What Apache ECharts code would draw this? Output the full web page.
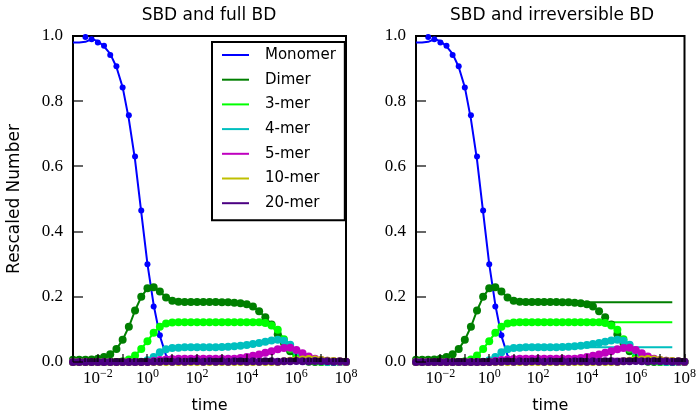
<!DOCTYPE html>
<html><head><meta charset="utf-8">
<script src="https://cdn.jsdelivr.net/npm/echarts@6/dist/echarts.min.js"></script>
<style>html,body{margin:0;padding:0;background:#fff}#c{width:699px;height:419px}</style>
</head><body><div id="c"></div>
<script>
// log10(time) grid
const logT = [-3,-2.75,-2.5,-2.25,-2,-1.75,-1.5,-1.25,-1,-0.75,-0.5,-0.25,0,0.25,0.5,0.75,1,1.25,1.5,1.75,2,2.25,2.5,2.75,3,3.25,3.5,3.75,4,4.25,4.5,4.75,5,5.25,5.5,5.75,6,6.25,6.5,6.75,7,7.25,7.5,7.75,8];
const names = ['Monomer','Dimer','3-mer','4-mer','5-mer','10-mer','20-mer'];
const colors = ['#0000ff','#007f00','#00ff00','#00bfbf','#bf00bf','#bfbf00','#4b0082'];
const xMajorExps = [-3,-2,-1,0,1,2,3,4,5,6,7,8];
const xLabelExps = [-2,0,2,4,6,8];
const minorMult = [2,3,4,5,6,7,8,9];
const yTicks = [0,0.2,0.4,0.6,0.8,1.0];

const monoLine = [0.98,0.98,0.982,0.99,0.985,0.968,0.945,0.905,0.843,0.745,0.62,0.46,0.30,0.175,0.08,0.02,0.004,0,0,0,0,0,0,0,0,0,0,0,0,0,0,0,0,0,0,0,0,0,0,0,0,0,0,0,0];
const monoDots = [null,null,0.997,0.99,0.98,0.97,0.942,0.907,0.842,0.757,0.63,0.465,0.30,0.17,0.082,null,null,null,null,null,null,null,null,null,null,null,null,null,null,null,null,null,null,null,null,null,null,null,null,null,null,null,null,null,null];
const dimer = [0.007,0.007,0.007,0.008,0.01,0.015,0.024,0.04,0.068,0.108,0.158,0.2,0.226,0.229,0.216,0.198,0.188,0.185,0.184,0.184,0.184,0.184,0.184,0.184,0.183,0.183,0.182,0.18,0.177,0.17,0.156,0.137,0.115,0.085,0.058,0.033,0.011,0.004,0.001,0,0,0,0,0,0];
const trimer = [0,0,0,0,0,0,0,0,0.002,0.008,0.02,0.04,0.064,0.09,0.108,0.118,0.121,0.122,0.122,0.122,0.122,0.122,0.122,0.122,0.122,0.122,0.122,0.122,0.122,0.122,0.122,0.12,0.112,0.099,0.07,0.04,0.015,0.008,0.004,0.002,0,0,0,0,0];
const tetramer = [0,0,0,0,0,0,0,0,0,0,0,0.001,0.005,0.015,0.03,0.039,0.043,0.044,0.045,0.045,0.045,0.045,0.045,0.045,0.046,0.047,0.048,0.05,0.052,0.055,0.058,0.062,0.066,0.068,0.065,0.053,0.034,0.018,0.01,0.005,0.002,0,0,0,0];
const pentamer = [0,0,0,0,0,0,0,0,0,0,0,0,0.001,0.003,0.006,0.008,0.009,0.01,0.01,0.01,0.01,0.01,0.01,0.01,0.01,0.01,0.01,0.012,0.015,0.019,0.023,0.028,0.033,0.039,0.043,0.044,0.037,0.027,0.017,0.01,0.006,0.004,0.002,0.001,0];
const decamer = [0,0,0,0,0,0,0,0,0,0,0,0,0,0,0,0,0,0,0,0,0,0,0,0,0,0,0,0,0,0,0,0,0,0,0.002,0.004,0.006,0.008,0.009,0.008,0.006,0.004,0.003,0.002,0.001];
const icosamer = [0,0,0,0,0,0,0,0,0,0,0,0,0,0.001,0.001,0.002,0.001,0.002,0.001,0.002,0.002,0.001,0.002,0.001,0.002,0.001,0.002,0.002,0.001,0.002,0.001,0.002,0.002,0.001,0.002,0.002,0.003,0.002,0.002,0.003,0.002,0.002,0.001,0.002,0.001];
// irreversible BD (right panel) solid lines
const dimerIrr = [0.007,0.007,0.007,0.008,0.01,0.015,0.024,0.04,0.068,0.108,0.158,0.2,0.226,0.229,0.216,0.198,0.188,0.185,0.184,0.184,0.184,0.184,0.184,0.184,0.183,0.183,0.183,0.183,0.183,0.183,0.183,0.183,0.183,0.183,0.183,0.183,0.183,0.183,0.183,0.183,0.183,0.183,0.183,null,null];
const trimerIrr = [0,0,0,0,0,0,0,0,0.002,0.008,0.02,0.04,0.064,0.09,0.108,0.118,0.121,0.122,0.122,0.122,0.122,0.122,0.122,0.122,0.122,0.122,0.122,0.122,0.122,0.122,0.122,0.122,0.122,0.122,0.122,0.122,0.122,0.122,0.122,0.122,0.122,0.122,0.122,null,null];
const tetramerIrr = [0,0,0,0,0,0,0,0,0,0,0,0.001,0.005,0.015,0.03,0.039,0.043,0.044,0.045,0.045,0.045,0.045,0.045,0.045,0.045,0.045,0.045,0.045,0.045,0.045,0.045,0.045,0.045,0.045,0.045,0.045,0.045,0.045,0.045,0.045,0.045,0.045,0.045,null,null];
const pentamerIrr = [0,0,0,0,0,0,0,0,0,0,0,0,0.001,0.003,0.006,0.008,0.009,0.01,0.01,0.01,0.01,0.01,0.01,0.01,0.01,0.01,0.01,0.01,0.01,0.01,0.01,0.01,0.01,0.01,0.01,0.01,0.01,0.01,0.01,0.01,0.01,0.01,0.01,null,null];
const decamerIrr = [0,0,0,0,0,0,0,0,0,0,0,0,0,0,0,0,0,0,0,0,0,0,0,0,0,0,0,0,0,0,0,0,0,0,0.001,0.001,0.001,0.001,0.001,0.001,0.001,0.001,0.001,null,null];
const icosamerIrr = [0,0,0,0,0,0,0,0,0,0,0,0,0,0,0,0,0,0,0,0,0,0,0,0,0,0,0,0,0,0,0,0,0,0,0,0,0,0,0,0,0,0,0,null,null];

const dotsAll = [monoDots, dimer, trimer, tetramer, pentamer, decamer, icosamer];
const linesFull = [monoLine, dimer, trimer, tetramer, pentamer, decamer, icosamer];
const linesIrr = [monoLine, dimerIrr, trimerIrr, tetramerIrr, pentamerIrr, decamerIrr, icosamerIrr];

const pair = a => logT.map((x, i) => [x, a[i]]);
const minorVals = [];
for (let d = -3; d < 8; d++) minorMult.forEach(m => minorVals.push(d + Math.log10(m)));

const SERIF = 'Liberation Serif';
const SANS = 'DejaVu Sans';
const panels = [
  {left: 73, top: 36, width: 273, height: 329},
  {left: 416, top: 36, width: 272, height: 329}
];

const gridOpts = [], xAxes = [], yAxes = [];
panels.forEach((g, gi) => {
  gridOpts.push(Object.assign({show: true, borderColor: '#000', borderWidth: 2}, g));
  xAxes.push({
    type: 'value', gridIndex: gi, min: -3, max: 8, interval: 1,
    name: 'time', nameLocation: 'middle', nameGap: 36,
    nameTextStyle: {fontFamily: SANS, fontSize: 16, color: '#000'},
    axisLine: {show: true, onZero: false, lineStyle: {color: '#000', width: 2}},
    splitLine: {show: false},
    axisTick: {show: false},
    axisLabel: {
      show: true, margin: 6, showMaxLabel: true, showMinLabel: true,
      formatter: v => xLabelExps.includes(v) ? '{b|10}{s|' + (v < 0 ? '\u2212' : '') + Math.abs(v) + '}' : '',
      rich: {
        b: {fontFamily: SERIF, fontSize: 17, color: '#000'},
        s: {fontFamily: SERIF, fontSize: 12, color: '#000', padding: [0, 0, 9, 0]}
      }
    }
  });
  yAxes.push({
    type: 'value', gridIndex: gi, min: 0, max: 1, interval: 0.2,
    name: gi === 0 ? 'Rescaled Number' : '', nameLocation: 'middle', nameGap: 50,
    nameTextStyle: {fontFamily: SANS, fontSize: 17, color: '#000'},
    axisLine: {show: true, onZero: false, lineStyle: {color: '#000', width: 2}},
    splitLine: {show: false},
    axisTick: {show: false},
    axisLabel: {margin: 10, fontFamily: SERIF, fontSize: 17, color: '#000',
      formatter: v => yTicks.some(t => Math.abs(t - v) < 1e-9) ? v.toFixed(1) : ''}
  });
});

const series = [];
// left panel: full BD
names.forEach((n, i) => {
  if (i === 0) {
    series.push({name: n, type: 'line', xAxisIndex: 0, yAxisIndex: 0, data: pair(linesFull[0]),
      showSymbol: false, lineStyle: {color: colors[0], width: 2}, itemStyle: {color: colors[0]}, z: 3});
    series.push({name: n + ' SBD', type: 'scatter', xAxisIndex: 0, yAxisIndex: 0, data: pair(dotsAll[0]),
      symbolSize: 6, itemStyle: {color: colors[0], opacity: 1}, z: 3});
  } else {
    series.push({name: n, type: 'line', xAxisIndex: 0, yAxisIndex: 0, data: pair(linesFull[i]),
      showSymbol: true, symbol: 'circle', symbolSize: 8,
      lineStyle: {color: colors[i], width: 2}, itemStyle: {color: colors[i], borderWidth: 0}, z: 3});
  }
});
// right panel: irreversible BD
names.forEach((n, i) => {
  series.push({name: n, type: 'line', xAxisIndex: 1, yAxisIndex: 1, data: pair(linesIrr[i]),
    showSymbol: false, lineStyle: {color: colors[i], width: 2}, itemStyle: {color: colors[i]}, z: 3});
  series.push({name: n + ' SBD', type: 'scatter', xAxisIndex: 1, yAxisIndex: 1, data: pair(dotsAll[i]),
    symbolSize: i === 0 ? 6 : 8, itemStyle: {color: colors[i], opacity: 1}, z: 3});
});

const chart = echarts.init(document.getElementById('c'), null, {renderer: 'canvas'});
chart.setOption({
  backgroundColor: '#fff',
  animation: false,
  title: [
    {text: 'SBD and full BD', left: 209, top: 7, textAlign: 'center', padding: 0,
      textStyle: {fontFamily: SANS, fontSize: 17, fontWeight: 'normal', color: '#000'}},
    {text: 'SBD and irreversible BD', left: 552, top: 7, textAlign: 'center', padding: 0,
      textStyle: {fontFamily: SANS, fontSize: 17, fontWeight: 'normal', color: '#000'}}
  ],
  grid: gridOpts,
  xAxis: xAxes,
  yAxis: yAxes,
  legend: {
    data: names, orient: 'vertical', left: 212, top: 42,
    icon: 'rect', itemWidth: 27, itemHeight: 2, itemGap: 4.7,
    padding: [3, 9, 7, 10],
    backgroundColor: '#fff', borderColor: '#000', borderWidth: 2,
    selectedMode: false,
    textStyle: {fontFamily: SANS, fontSize: 15, color: '#000', lineHeight: 20, padding: [0, 0, 0, 11]}
  },
  series: series
});

// inward tick marks, positioned through each axis's own scale
const tickEls = [];
const tickRect = (x, y, w, h) => tickEls.push({type: 'rect', z: 100, zlevel: 1, silent: true,
  shape: {x: x, y: y, width: w, height: h}, style: {fill: '#000', stroke: null}});
[0, 1].forEach(gi => {
  const xLeft = chart.convertToPixel({xAxisIndex: gi}, -3);
  const yBottom = chart.convertToPixel({yAxisIndex: gi}, 0);
  yTicks.forEach(v => {
    const py = chart.convertToPixel({yAxisIndex: gi}, v);
    tickRect(Math.round(xLeft), Math.round(py) - 0.6, 10, 1.2);
  });
  xMajorExps.forEach(v => {
    const px = chart.convertToPixel({xAxisIndex: gi}, v);
    tickRect(Math.round(px) - 0.6, Math.round(yBottom) - 8, 1.2, 8);
  });
  minorVals.forEach(v => {
    const px = chart.convertToPixel({xAxisIndex: gi}, v);
    tickRect(Math.round(px) - 0.5, Math.round(yBottom) - 4, 1, 4);
  });
});
chart.setOption({graphic: {elements: tickEls}});
</script></body></html>
